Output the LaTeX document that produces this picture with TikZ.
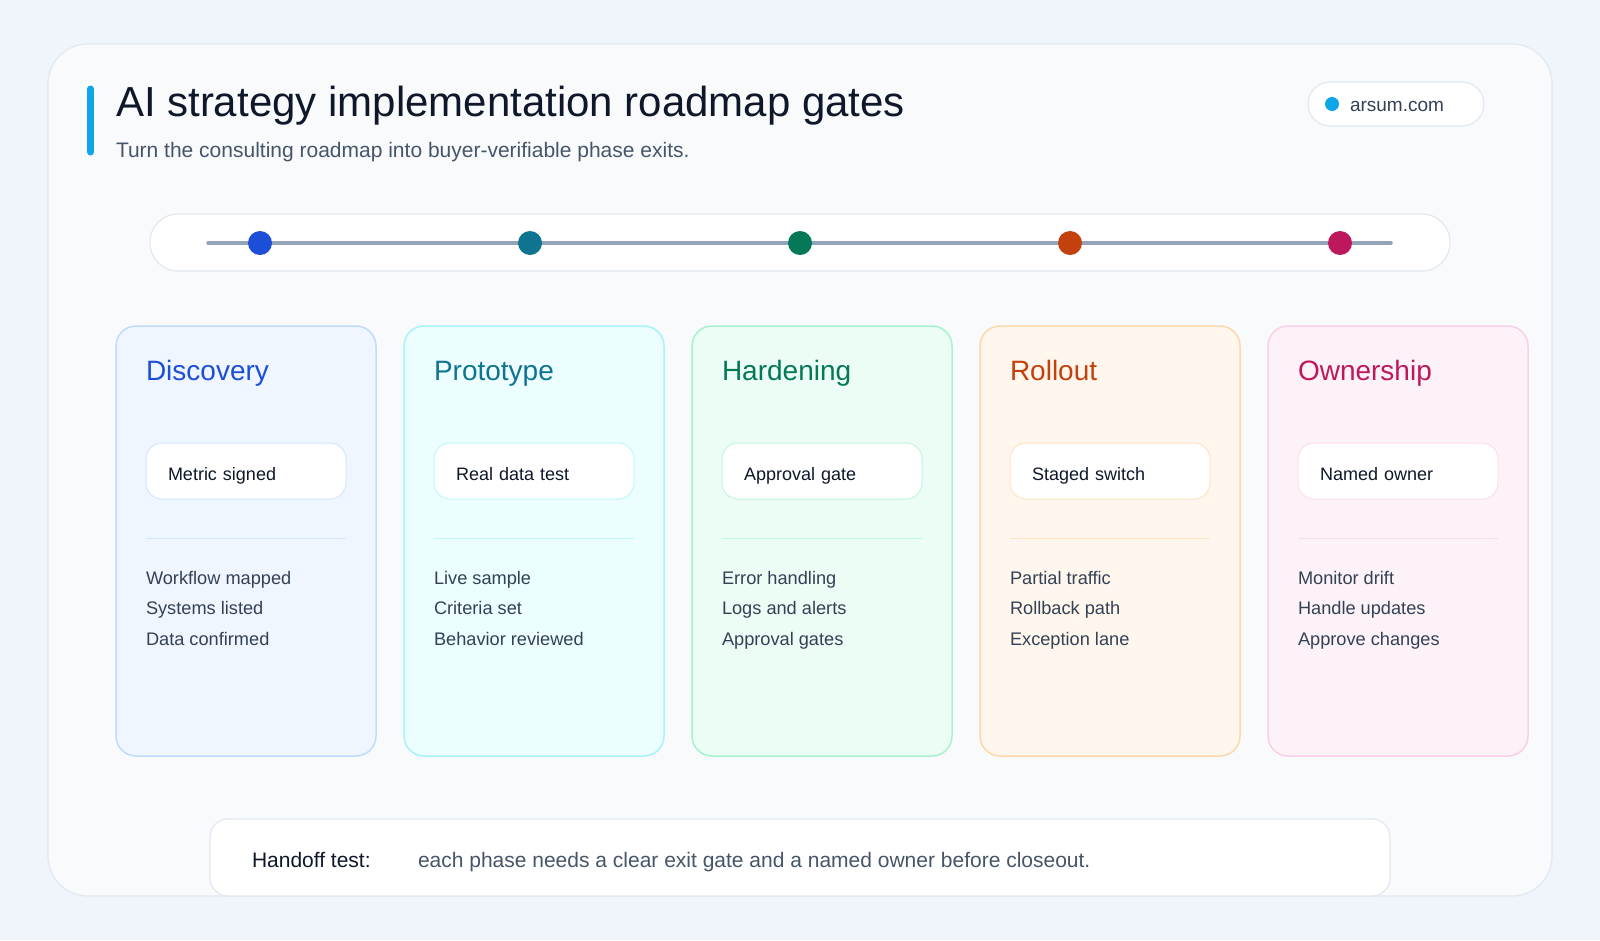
\documentclass[tikz,border=0pt]{standalone}
\usepackage{fontspec}
\setmainfont{Liberation Sans}
\usetikzlibrary{positioning}
\definecolor{pagebg}{HTML}{EFF5FB}
\definecolor{cardbg}{HTML}{F8FAFC}
\definecolor{edgegray}{HTML}{E2E8F0}
\definecolor{inkdark}{HTML}{0F172A}
\definecolor{inkmid}{HTML}{475569}
\definecolor{inklist}{HTML}{334155}
\definecolor{accent}{HTML}{0EA5E9}
\definecolor{railgray}{HTML}{94A3B8}
\definecolor{discink}{HTML}{1D4ED8}\definecolor{discfill}{HTML}{EFF6FF}\definecolor{discline}{HTML}{BFDBFE}
\definecolor{protink}{HTML}{0E7490}\definecolor{protfill}{HTML}{ECFEFF}\definecolor{protline}{HTML}{A5F3FC}
\definecolor{hardink}{HTML}{047857}\definecolor{hardfill}{HTML}{ECFDF5}\definecolor{hardline}{HTML}{A7F3D0}
\definecolor{rollink}{HTML}{C2410C}\definecolor{rollfill}{HTML}{FFF7ED}\definecolor{rollline}{HTML}{FED7AA}
\definecolor{ownink}{HTML}{BE185D}\definecolor{ownfill}{HTML}{FDF2F8}\definecolor{ownline}{HTML}{FBCFE8}

\tikzset{
  phasecard/.style={draw, line width=1.5pt, rounded corners=20pt, minimum width=260pt, minimum height=430pt},
  phasetitle/.style={anchor=base west, font=\fontsize{28}{34}\selectfont},
  gatebox/.style={draw, line width=1pt, fill=white, rounded corners=16pt, minimum width=200pt, minimum height=56pt,
    text width=156pt, inner xsep=22pt, align=left, text height=19pt, text depth=1pt,
    font=\fontsize{18}{22}\selectfont, text=inkdark},
  itemlist/.style={anchor=base west, align=left, font=\fontsize{18.2}{30.5}\selectfont, text=inklist},
  phasedot/.style={circle, minimum size=24pt, inner sep=0pt},
  pill/.style={draw=edgegray, line width=1.2pt, fill=white}
}

\begin{document}
\begin{tikzpicture}[x=1pt, y=-1pt, every node/.style={inner sep=0pt, outer sep=0pt}]
  % page and outer card
  \fill[pagebg] (0,0) rectangle (1600,940);
  \node[draw=edgegray, line width=1.2pt, fill=cardbg, rounded corners=40pt, minimum width=1504pt, minimum height=852pt] (frame) at (800,470) {};

  % header
  \draw[accent, line width=7pt, line cap=round] (90.5,89) -- (90.5,152);
  \node[anchor=base west, font=\fontsize{42}{48}\selectfont, text=inkdark] (title) at (116,116) {AI strategy implementation roadmap gates};
  \node[anchor=base west, font=\fontsize{21}{25}\selectfont, text=inkmid] (subtitle) at (116,157) {Turn the consulting roadmap into buyer-verifiable phase exits.};
  \node[pill, rounded corners=22pt, minimum width=176pt, minimum height=44pt] (site) at (1396,104) {};
  \node[phasedot, fill=accent, minimum size=14pt] (sitedot) at (1332,104) {};
  \node[anchor=base west, font=\fontsize{19}{23}\selectfont, text=inklist] (sitename) at (1350,111) {arsum.com};

  % timeline
  \node[pill, rounded corners=28pt, minimum width=1300pt, minimum height=57pt] (rail) at (800,242.5) {};
  \coordinate (railL) at (208,243);
  \coordinate (railR) at (1391,243);
  \draw[railgray, line width=3.5pt, line cap=round] (railL) -- (railR);
  \node[phasedot, fill=discink] (dot1) at (260,243) {};
  \node[phasedot, fill=protink] (dot2) at (530,243) {};
  \node[phasedot, fill=hardink] (dot3) at (800,243) {};
  \node[phasedot, fill=rollink] (dot4) at (1070,243) {};
  \node[phasedot, fill=ownink] (dot5) at (1340,243) {};

  % Discovery
  \node[phasecard, draw=discline, fill=discfill] (disc) at (246,541) {};
  \node[phasetitle, text=discink] (discT) at (146,380) {Discovery};
  \node[gatebox, draw=discline!70] (discG) at (246,471) {Metric signed};
  \draw[discline!70, line width=1pt] (146,538) -- (346,538);
  \node[itemlist] (discL) at (146,645) {Workflow mapped\\Systems listed\\Data confirmed};

  % Prototype
  \node[phasecard, draw=protline, fill=protfill] (prot) at (534,541) {};
  \node[phasetitle, text=protink] (protT) at (434,380) {Prototype};
  \node[gatebox, draw=protline!70] (protG) at (534,471) {Real data test};
  \draw[protline!70, line width=1pt] (434,538) -- (634,538);
  \node[itemlist] (protL) at (434,645) {Live sample\\Criteria set\\Behavior reviewed};

  % Hardening
  \node[phasecard, draw=hardline, fill=hardfill] (hard) at (822,541) {};
  \node[phasetitle, text=hardink] (hardT) at (722,380) {Hardening};
  \node[gatebox, draw=hardline!70] (hardG) at (822,471) {Approval gate};
  \draw[hardline!70, line width=1pt] (722,538) -- (922,538);
  \node[itemlist] (hardL) at (722,645) {Error handling\\Logs and alerts\\Approval gates};

  % Rollout
  \node[phasecard, draw=rollline, fill=rollfill] (roll) at (1110,541) {};
  \node[phasetitle, text=rollink] (rollT) at (1010,380) {Rollout};
  \node[gatebox, draw=rollline!70] (rollG) at (1110,471) {Staged switch};
  \draw[rollline!70, line width=1pt] (1010,538) -- (1210,538);
  \node[itemlist] (rollL) at (1010,645) {Partial traffic\\Rollback path\\Exception lane};

  % Ownership
  \node[phasecard, draw=ownline, fill=ownfill] (own) at (1398,541) {};
  \node[phasetitle, text=ownink] (ownT) at (1298,380) {Ownership};
  \node[gatebox, draw=ownline!70] (ownG) at (1398,471) {Named owner};
  \draw[ownline!70, line width=1pt] (1298,538) -- (1498,538);
  \node[itemlist] (ownL) at (1298,645) {Monitor drift\\Handle updates\\Approve changes};

  % handoff note
  \node[pill, rounded corners=18pt, minimum width=1180pt, minimum height=77pt] (note) at (800,857.5) {};
  \node[anchor=base west, font=\fontsize{21}{25}\selectfont, text=inkdark] (noteK) at (252,867) {Handoff test:};
  \node[anchor=base west, font=\fontsize{21}{25}\selectfont, text=inkmid] (noteV) at (418,867) {each phase needs a clear exit gate and a named owner before closeout.};
\end{tikzpicture}
\end{document}
